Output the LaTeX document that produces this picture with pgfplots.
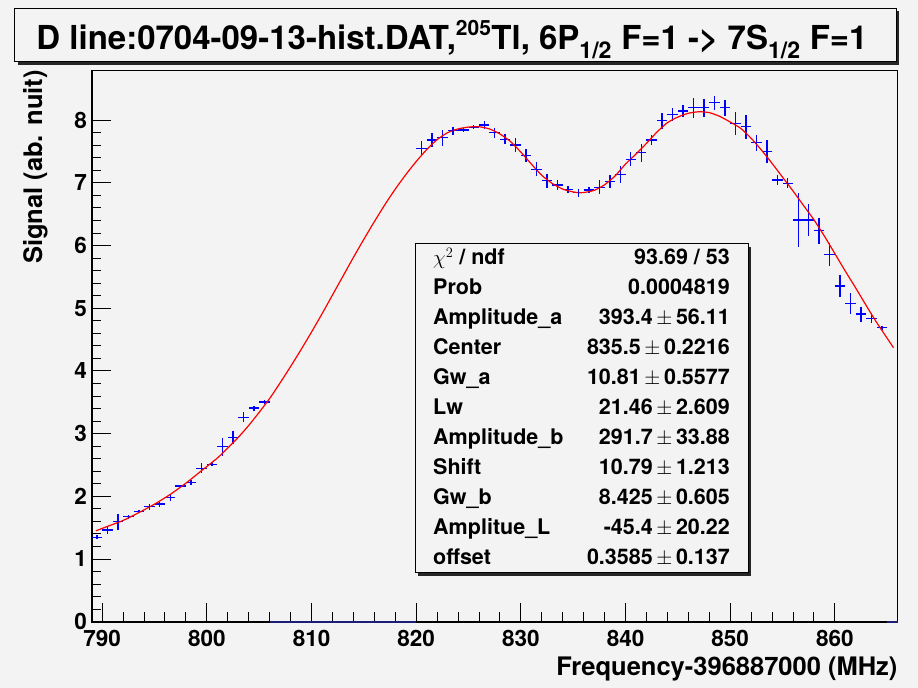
\documentclass[border=0pt]{standalone}
\usepackage{fontspec}
\setmainfont{TeX Gyre Heros}
\usepackage{pgfplots}
\pgfplotsset{compat=1.18}
\usepackage{pgfplotstable}
\definecolor{bg}{RGB}{243,243,243}
\definecolor{navy}{RGB}{30,30,120}

\pgfplotstableread{
x y ey
789.5 1.346 0.03
790.5 1.462 0.07
791.5 1.595 0.13
792.5 1.675 0.03
793.5 1.754 0.02
794.5 1.834 0.05
795.5 1.877 0.04
796.5 1.978 0.06
797.5 2.164 0.02
798.5 2.223 0.04
799.5 2.447 0.08
800.5 2.510 0.02
801.5 2.791 0.14
802.5 2.941 0.10
803.5 3.260 0.08
804.5 3.408 0.04
805.5 3.504 0.03
820.5 7.550 0.11
821.5 7.683 0.11
822.5 7.719 0.13
823.5 7.831 0.06
824.5 7.842 0.03
825.5 7.885 0.03
826.5 7.922 0.07
827.5 7.799 0.08
828.5 7.694 0.08
829.5 7.603 0.11
830.5 7.432 0.10
831.5 7.215 0.11
832.5 7.033 0.11
833.5 6.965 0.08
834.5 6.896 0.06
835.5 6.842 0.06
836.5 6.885 0.05
837.5 6.928 0.11
838.5 7.018 0.10
839.5 7.136 0.14
840.5 7.375 0.11
841.5 7.480 0.14
842.5 7.683 0.08
843.5 7.990 0.13
844.5 8.093 0.10
845.5 8.145 0.10
846.5 8.198 0.16
847.5 8.198 0.14
848.5 8.278 0.11
849.5 8.198 0.13
850.5 7.949 0.18
851.5 7.895 0.19
852.5 7.640 0.13
853.5 7.496 0.18
854.5 7.045 0.08
855.5 6.992 0.08
856.5 6.407 0.43
857.5 6.407 0.26
858.5 6.236 0.21
859.5 5.860 0.18
860.5 5.354 0.18
861.5 5.078 0.17
862.5 4.907 0.12
863.5 4.839 0.08
864.5 4.689 0.03
}\datatable

\pgfplotstableread{
x y
789.4 1.45
790.5 1.52
792.0 1.615
793.5 1.74
795.0 1.875
796.5 2.03
798.0 2.21
799.5 2.41
801.0 2.61
802.0 2.77
803.0 2.94
804.0 3.13
805.0 3.34
806.0 3.56
807.0 3.81
808.0 4.07
809.0 4.34
810.0 4.62
811.0 4.91
812.0 5.21
813.0 5.51
814.0 5.81
815.0 6.10
816.0 6.38
817.0 6.65
818.0 6.90
819.0 7.13
820.0 7.34
821.0 7.53
822.0 7.69
823.0 7.80
824.0 7.86
825.0 7.89
826.0 7.895
827.0 7.86
828.0 7.78
829.0 7.66
830.0 7.49
831.0 7.30
832.0 7.12
833.0 6.99
834.0 6.90
835.0 6.855
835.6 6.842
836.0 6.845
837.0 6.88
838.0 6.97
839.0 7.11
840.0 7.30
841.0 7.46
842.0 7.63
843.0 7.81
844.0 7.96
845.0 8.05
846.0 8.11
847.0 8.134
848.0 8.12
849.0 8.06
850.0 7.97
851.0 7.87
852.0 7.71
853.0 7.52
854.0 7.31
855.0 7.09
856.0 6.87
857.0 6.64
858.0 6.41
859.0 6.15
860.0 5.87
861.0 5.59
862.0 5.32
863.0 5.04
864.0 4.77
865.0 4.52
865.6 4.37
}\fittable

\newcommand{\sfont}{\fontsize{21.5bp}{25bp}\selectfont\bfseries}
\newcommand{\pmv}{\,$\pm$\,}

\begin{document}
\begin{tikzpicture}
\fill[bg] (-91.7bp,-66.3bp) rectangle (826.3bp,621.7bp);
\useasboundingbox (-91.7bp,-66.3bp) rectangle (826.3bp,621.7bp);
% title box
\fill[black!85] (-74.1bp,557bp) rectangle (807.3bp,610.4bp);
\filldraw[fill=bg, draw=black, line width=1bp] (-77.1bp,560bp) rectangle (804.3bp,613.4bp);
\node[anchor=base, inner sep=0pt] at (360.3bp,571.7bp) {\fontsize{33bp}{38bp}\selectfont\bfseries D line:0704-09-13-hist.DAT,\raisebox{0.3ex}{\textsuperscript{\fontsize{21bp}{24bp}\selectfont 205}}Tl, 6P\textsubscript{1/2} F=1 -> 7S\textsubscript{1/2} F=1};

\begin{axis}[
  scale only axis, width=806bp, height=551.7bp,
  xmin=789, xmax=866, ymin=0, ymax=8.8,
  clip=false,
  xtick={790,800,...,860}, ytick={0,1,...,8},
  minor x tick num=4, minor y tick num=4,
  xtick pos=bottom, ytick pos=left, tick align=inside,
  major tick length=19bp, minor tick length=9.5bp,
  every tick/.style={black, line width=1bp},
  axis line style={line width=1bp},
  axis background/.style={fill=bg},
  ticklabel style={font=\fontsize{22.5bp}{27bp}\selectfont\bfseries, inner sep=0pt},
  xticklabel style={yshift=-8bp},
  yticklabel style={xshift=-4.5bp},
  /pgf/number format/assume math mode=true,
  xlabel={Frequency-396887000 (MHz)},
  ylabel={Signal (ab. nuit)},
  xlabel style={at={(axis description cs:1,0)}, anchor=north east, inner sep=0pt, yshift=-35bp, font=\fontsize{25.5bp}{30bp}\selectfont\bfseries},
  ylabel style={at={(axis description cs:-0.0852,1)}, anchor=north east, inner sep=0pt, font=\fontsize{25.5bp}{30bp}\selectfont\bfseries},
]
\draw[line width=2bp] (rel axis cs:0,1) -- (rel axis cs:0,0) -- (rel axis cs:1,0);
\addplot[navy, line width=2bp] coordinates {(806,0) (820,0)};
\addplot[navy, line width=2bp] coordinates {(865,0) (866,0)};
\addplot[blue, line width=1.4bp, only marks, mark=*, mark size=0.6bp,
  mark options={solid, draw=blue, fill=blue, line width=0.2bp},
  error bars/.cd, x dir=both, x fixed=0.5, y dir=both, y explicit, error mark=none,
  error bar style={line width=1.4bp, draw=blue}]
  table[x=x, y=y, y error=ey] {\datatable};
\addplot[red, line width=1.2bp, smooth, tension=0.4] table[x=x, y=y] {\fittable};
\end{axis}

% stats box
\fill[black!85] (326.3bp,45.7bp) rectangle (659.3bp,374.7bp);
\filldraw[fill=bg, draw=black, line width=1bp] (323.3bp,48.7bp) rectangle (656.3bp,377.7bp);
\begin{scope}[every node/.style={inner sep=0pt, font=\sfont}]
\node[anchor=base west] at (341.3bp,356.7bp) {$\chi^{2}$ / ndf};
\node[anchor=base east] at (638.3bp,356.7bp) {93.69 / 53};
\node[anchor=base west] at (341.3bp,326.7bp) {Prob};
\node[anchor=base east] at (638.3bp,326.7bp) {0.0004819};
\node[anchor=base west] at (341.3bp,296.7bp) {Amplitude\_a};
\node[anchor=base east] at (638.3bp,296.7bp) {393.4\pmv 56.11};
\node[anchor=base west] at (341.3bp,266.7bp) {Center};
\node[anchor=base east] at (638.3bp,266.7bp) {835.5\pmv 0.2216};
\node[anchor=base west] at (341.3bp,236.7bp) {Gw\_a};
\node[anchor=base east] at (638.3bp,236.7bp) {10.81\pmv 0.5577};
\node[anchor=base west] at (341.3bp,206.7bp) {Lw};
\node[anchor=base east] at (638.3bp,206.7bp) {21.46\pmv 2.609};
\node[anchor=base west] at (341.3bp,176.7bp) {Amplitude\_b};
\node[anchor=base east] at (638.3bp,176.7bp) {291.7\pmv 33.88};
\node[anchor=base west] at (341.3bp,146.7bp) {Shift};
\node[anchor=base east] at (638.3bp,146.7bp) {10.79\pmv 1.213};
\node[anchor=base west] at (341.3bp,116.7bp) {Gw\_b};
\node[anchor=base east] at (638.3bp,116.7bp) {8.425\pmv 0.605};
\node[anchor=base west] at (341.3bp,86.7bp) {Amplitue\_L};
\node[anchor=base east] at (638.3bp,86.7bp) {-45.4\pmv 20.22};
\node[anchor=base west] at (341.3bp,56.7bp) {offset};
\node[anchor=base east] at (638.3bp,56.7bp) {0.3585\pmv 0.137};
\end{scope}
\end{tikzpicture}
\end{document}
